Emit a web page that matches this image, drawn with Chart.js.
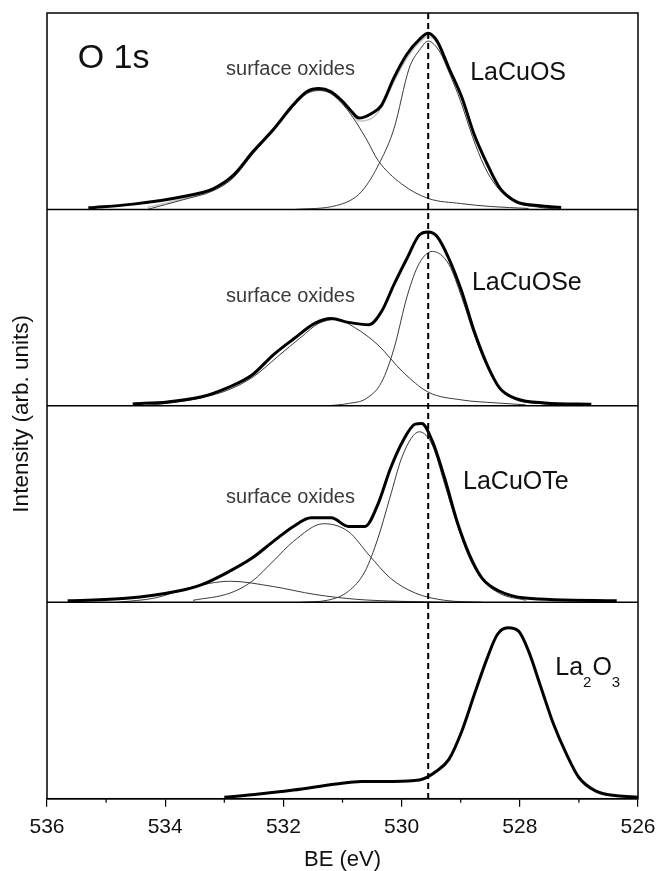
<!DOCTYPE html>
<html>
<head>
<meta charset="utf-8">
<script src="https://cdn.jsdelivr.net/npm/chart.js@4.4.1/dist/chart.umd.min.js"></script>
<style>
  html, body { margin: 0; padding: 0; background: #fff; }
  canvas { display: block; }
</style>
</head>
<body>
<canvas id="xpsChart" width="656" height="871"></canvas>
<script>
// O 1s spectra: binding energy (eV) vs intensity, each panel scaled 0..1
const refLine = 529.55;
const xLabels = [536, 534, 532, 530, 528, 526];

// LaCuOS
const losBE = [535.3, 534.54, 533.69, 533.19, 532.85, 532.51, 532.17, 531.83, 531.6, 531.4, 531.2, 531.0, 530.85, 530.72, 530.5, 530.34, 530.13, 529.91, 529.7, 529.55, 529.4, 529.2, 528.98, 528.77, 528.55, 528.34, 528.06, 527.7, 527.3];
const losExp = [0.008, 0.027, 0.066, 0.105, 0.173, 0.296, 0.407, 0.534, 0.6, 0.615, 0.6, 0.55, 0.5, 0.465, 0.49, 0.53, 0.67, 0.79, 0.865, 0.897, 0.857, 0.72, 0.57, 0.38, 0.23, 0.11, 0.04, 0.02, 0.01];
const losFitBE = [534.3, 533.69, 533.19, 532.85, 532.51, 532.17, 531.83, 531.6, 531.4, 531.2, 531.0, 530.85, 530.72, 530.5, 530.34, 530.13, 529.91, 529.7, 529.55, 529.4, 529.2, 528.98, 528.77, 528.55, 528.34, 528.06, 527.7, 527.3];
const losFit = [0.01, 0.055, 0.1, 0.165, 0.29, 0.4, 0.525, 0.595, 0.61, 0.595, 0.545, 0.49, 0.45, 0.465, 0.52, 0.65, 0.77, 0.85, 0.88, 0.85, 0.72, 0.57, 0.38, 0.23, 0.11, 0.04, 0.018, 0.008];
const losOxBE = [534.3, 533.69, 533.19, 532.85, 532.51, 532.17, 531.83, 531.6, 531.4, 531.2, 530.9, 530.6, 530.4, 530.0, 529.55, 529.0, 528.5, 527.85];
const losOx = [0.0, 0.05, 0.095, 0.16, 0.285, 0.4, 0.525, 0.59, 0.605, 0.59, 0.5, 0.36, 0.25, 0.13, 0.056, 0.03, 0.015, 0.005];
const losMainBE = [531.8, 531.1, 530.68, 530.36, 530.13, 529.87, 529.7, 529.55, 529.35, 529.2, 529.0, 528.8, 528.6, 528.4, 528.1, 527.7, 527.3];
const losMain = [0.0, 0.02, 0.09, 0.245, 0.41, 0.72, 0.81, 0.857, 0.8, 0.7, 0.55, 0.37, 0.22, 0.12, 0.04, 0.012, 0.0];

// LaCuOSe
const loseBE = [534.55, 533.96, 533.38, 532.96, 532.53, 532.17, 531.83, 531.47, 531.19, 530.9, 530.55, 530.34, 530.13, 529.91, 529.7, 529.55, 529.4, 529.2, 528.98, 528.77, 528.55, 528.34, 528.06, 527.57, 526.79];
const loseExp = [0.01, 0.02, 0.046, 0.09, 0.157, 0.26, 0.34, 0.42, 0.445, 0.425, 0.413, 0.48, 0.617, 0.75, 0.87, 0.885, 0.862, 0.75, 0.58, 0.378, 0.208, 0.09, 0.037, 0.015, 0.008];
const loseOxBE = [534.4, 533.9, 533.4, 532.9, 532.5, 532.1, 531.7, 531.4, 531.1, 530.8, 530.4, 529.98, 529.55, 528.98, 528.4, 527.9];
const loseOx = [0.0, 0.015, 0.04, 0.085, 0.15, 0.25, 0.35, 0.42, 0.44, 0.4, 0.31, 0.173, 0.07, 0.03, 0.015, 0.005];
const loseMainBE = [531.25, 530.9, 530.6, 530.34, 530.13, 529.9, 529.7, 529.48, 529.2, 528.98, 528.77, 528.55, 528.34, 528.06, 527.6, 527.1];
const loseMain = [0.0, 0.012, 0.037, 0.12, 0.29, 0.565, 0.726, 0.786, 0.72, 0.55, 0.36, 0.195, 0.085, 0.03, 0.01, 0.0];

// LaCuOTe
const loteBE = [535.65, 534.66, 533.8, 533.38, 532.96, 532.53, 532.17, 531.83, 531.53, 531.19, 530.9, 530.62, 530.4, 530.19, 529.98, 529.77, 529.66, 529.48, 529.27, 529.06, 528.85, 528.64, 528.34, 527.91, 526.36];
const loteExp = [0.008, 0.02, 0.056, 0.09, 0.15, 0.225, 0.31, 0.386, 0.43, 0.43, 0.386, 0.386, 0.5, 0.68, 0.82, 0.907, 0.91, 0.82, 0.63, 0.41, 0.24, 0.123, 0.056, 0.022, 0.008];
const loteMainBE = [531.7, 531.26, 530.9, 530.62, 530.4, 530.2, 529.98, 529.7, 529.48, 529.27, 529.06, 528.85, 528.64, 528.34, 527.9];
const loteMain = [0.0, 0.01, 0.056, 0.157, 0.326, 0.53, 0.75, 0.868, 0.8, 0.6, 0.395, 0.225, 0.117, 0.045, 0.01];
const loteOxBE = [533.53, 532.9, 532.53, 532.17, 531.83, 531.32, 530.9, 530.55, 530.19, 529.77, 529.27, 528.64];
const loteOx = [0.01, 0.047, 0.107, 0.21, 0.31, 0.4, 0.36, 0.24, 0.123, 0.047, 0.01, 0.0];
const loteHiBE = [534.8, 534.17, 533.6, 532.9, 532.17, 531.47, 530.76, 530.04, 529.3];
const loteHi = [0.0, 0.022, 0.073, 0.107, 0.08, 0.04, 0.015, 0.005, 0.0];

// La2O3
const laoBE = [533.0, 532.53, 531.83, 531.11, 530.68, 530.13, 529.7, 529.4, 529.2, 528.98, 528.77, 528.55, 528.38, 528.2, 528.02, 527.85, 527.64, 527.43, 527.21, 527.0, 526.72, 526.36, 526.0];
const laoExp = [0.007, 0.02, 0.044, 0.075, 0.088, 0.088, 0.095, 0.142, 0.2, 0.345, 0.53, 0.717, 0.836, 0.87, 0.853, 0.75, 0.565, 0.38, 0.227, 0.108, 0.04, 0.015, 0.008];

const FONT = "'Liberation Sans', Arial, sans-serif";

function series(be, vals, axis, kind) {
    const style = {
        exp:  { borderColor: '#000', borderWidth: 3 },
        fit:  { borderColor: '#c4c4c4', borderWidth: 1.5 },
        comp: { borderColor: '#3a3a3a', borderWidth: 1 }
    }[kind];
    return {
        data: be.map((x, i) => ({ x, y: vals[i] })),
        yAxisID: axis,
        pointRadius: 0,
        cubicInterpolationMode: 'monotone',
        fill: false,
        ...style
    };
}

// thick experimental curves first so they sit on top
const datasets = [
    series(losBE, losExp, 'y1', 'exp'),
    series(loseBE, loseExp, 'y2', 'exp'),
    series(loteBE, loteExp, 'y3', 'exp'),
    series(laoBE, laoExp, 'y4', 'exp'),
    series(losOxBE, losOx, 'y1', 'comp'),
    series(losMainBE, losMain, 'y1', 'comp'),
    series(loseOxBE, loseOx, 'y2', 'comp'),
    series(loseMainBE, loseMain, 'y2', 'comp'),
    series(loteMainBE, loteMain, 'y3', 'comp'),
    series(loteOxBE, loteOx, 'y3', 'comp'),
    series(loteHiBE, loteHi, 'y3', 'comp'),
    series(losFitBE, losFit, 'y1', 'fit')
];

const labels = [
    { axis: 'y1', be: 535.48, y: 0.77, parts: [['O 1s']], size: 34, color: '#111' },
    { axis: 'y1', be: 531.88, y: 0.714, parts: [['surface oxides']], size: 20, color: '#3a3a3a', center: true },
    { axis: 'y1', be: 528.84, y: 0.694, parts: [['LaCuOS']], size: 25, color: '#111' },
    { axis: 'y2', be: 531.88, y: 0.556, parts: [['surface oxides']], size: 20, color: '#3a3a3a', center: true },
    { axis: 'y2', be: 528.81, y: 0.624, parts: [['LaCuOSe']], size: 25, color: '#111' },
    { axis: 'y3', be: 531.88, y: 0.533, parts: [['surface oxides']], size: 20, color: '#3a3a3a', center: true },
    { axis: 'y3', be: 528.96, y: 0.61, parts: [['LaCuOTe']], size: 25, color: '#111' },
    { axis: 'y4', be: 527.4, y: 0.665, parts: [['La'], ['2', true], ['O'], ['3', true]], size: 25, color: '#111' }
];

const panelAxis = () => ({
    type: 'linear',
    min: 0,
    max: 1,
    position: 'left',
    stack: 'panels',
    stackWeight: 1,
    grid: { display: false, drawTicks: false },
    border: { display: false },
    ticks: { display: false }
});

const decorations = {
    id: 'decorations',
    afterDatasetsDraw(chart) {
        const { ctx, chartArea: a, scales } = chart;
        const xs = scales.x;
        ctx.save();

        // reference line through all panels
        const xr = xs.getPixelForValue(refLine);
        ctx.strokeStyle = '#000';
        ctx.lineWidth = 2;
        ctx.setLineDash([6, 4]);
        ctx.beginPath();
        ctx.moveTo(xr, a.top);
        ctx.lineTo(xr, a.bottom);
        ctx.stroke();
        ctx.setLineDash([]);

        // frame and panel separators
        ctx.lineWidth = 1.5;
        ctx.strokeRect(a.left, a.top, a.right - a.left, a.bottom - a.top);
        ['y1', 'y2', 'y3'].forEach(id => {
            const y = scales[id].bottom;
            ctx.beginPath();
            ctx.moveTo(a.left, y);
            ctx.lineTo(a.right, y);
            ctx.stroke();
        });

        // short minor ticks at the odd values
        ctx.lineWidth = 1.2;
        xs.ticks.forEach(t => {
            if (xLabels.includes(t.value)) return;
            const px = xs.getPixelForValue(t.value);
            ctx.beginPath();
            ctx.moveTo(px, a.bottom);
            ctx.lineTo(px, a.bottom + 4);
            ctx.stroke();
        });

        // panel labels
        labels.forEach(l => {
            const ys = scales[l.axis];
            let x = xs.getPixelForValue(l.be);
            const y = ys.getPixelForValue(l.y);
            ctx.fillStyle = l.color;
            ctx.textBaseline = 'middle';
            if (l.center) {
                ctx.font = `${l.size}px ${FONT}`;
                ctx.textAlign = 'center';
                ctx.fillText(l.parts[0][0], x, y);
                return;
            }
            ctx.textAlign = 'left';
            l.parts.forEach(([txt, sub]) => {
                const size = sub ? Math.round(l.size * 0.6) : l.size;
                ctx.font = `${size}px ${FONT}`;
                ctx.fillText(txt, x, sub ? y + l.size * 0.6 : y);
                x += ctx.measureText(txt).width + (sub ? 1 : 0);
            });
        });

        // y axis title
        ctx.translate(22, (a.top + a.bottom) / 2 + 8);
        ctx.rotate(-Math.PI / 2);
        ctx.font = `22.5px ${FONT}`;
        ctx.fillStyle = '#111';
        ctx.textAlign = 'center';
        ctx.textBaseline = 'middle';
        ctx.fillText('Intensity (arb. units)', 0, 0);
        ctx.restore();
    }
};

new Chart(document.getElementById('xpsChart'), {
    type: 'line',
    data: { datasets },
    options: {
        responsive: false,
        animation: false,
        layout: { padding: { top: 13, left: 47, right: 18, bottom: 0 } },
        plugins: { legend: { display: false }, tooltip: { enabled: false } },
        scales: {
            x: {
                type: 'linear',
                reverse: true,
                min: 526,
                max: 536,
                afterFit: (scale) => {
                    // end labels may overhang; the layout padding already leaves room
                    scale.paddingLeft = 0;
                    scale.paddingRight = 0;
                },
                ticks: {
                    stepSize: 1,
                    autoSkip: false,
                    maxRotation: 0,
                    padding: 8,
                    color: '#111',
                    font: { family: FONT, size: 21 },
                    callback: (v) => xLabels.includes(v) ? String(v) : ''
                },
                grid: {
                    drawOnChartArea: false,
                    tickLength: 8,
                    lineWidth: 1.2,
                    tickColor: (c) => xLabels.includes(c.tick && c.tick.value) ? '#000' : 'rgba(0,0,0,0)'
                },
                border: { display: true, color: '#000', width: 1.5 },
                title: {
                    display: true,
                    text: 'BE (eV)',
                    color: '#111',
                    font: { family: FONT, size: 22, lineHeight: 1.05 },
                    padding: { top: 0, bottom: 0 }
                }
            },
            y4: panelAxis(),
            y3: panelAxis(),
            y2: panelAxis(),
            y1: panelAxis()
        }
    },
    plugins: [decorations]
});
</script>
</body>
</html>
